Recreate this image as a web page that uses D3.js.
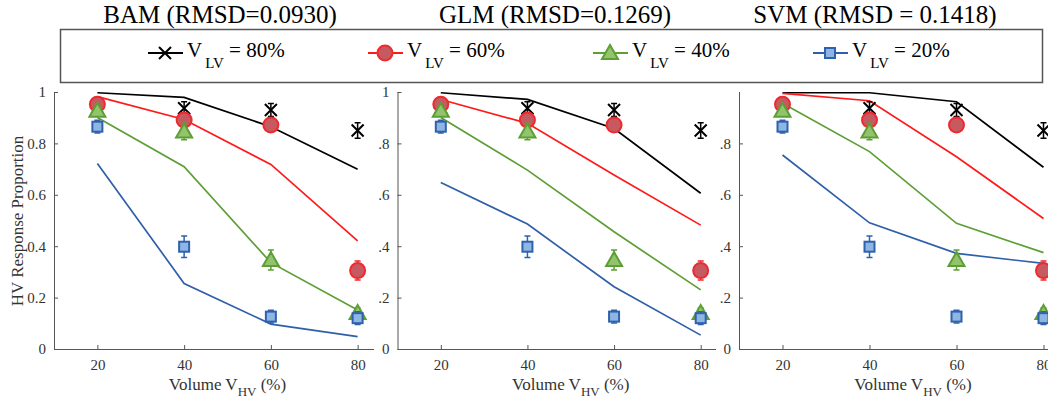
<!DOCTYPE html>
<html>
<head>
<meta charset="utf-8">
<script src="https://cdn.jsdelivr.net/npm/d3@7"></script>
<style>
  body { margin: 0; background: #fff; }
  svg { display: block; }
  svg text { font-family: "Liberation Serif", "Times New Roman", serif; }
</style>
</head>
<body>
<svg id="chart" width="1048" height="400"></svg>
<script>
// Volumes on the x axis
const volumes = [20, 40, 60, 80];
const xTicks = [20, 40, 60, 80];

// Observed responses (same in all three panels)
const obs80 = [0.94, 0.937, 0.93, 0.85];
const err80 = [0.02, 0.025, 0.025, 0.03];
const obs60 = [0.952, 0.891, 0.872, 0.305];
const err60 = [0.02, 0.025, 0.02, 0.037];
const obs40 = [0.927, 0.846, 0.346, 0.14];
const err40 = [0.02, 0.032, 0.039, 0.02];
const obs20 = [0.865, 0.398, 0.126, 0.12];
const err20 = [0.025, 0.042, 0.025, 0.025];

// Model predictions
const bam80 = [0.997, 0.979, 0.865, 0.699];
const bam60 = [0.982, 0.893, 0.718, 0.421];
const bam40 = [0.901, 0.709, 0.336, 0.152];
const bam20 = [0.722, 0.255, 0.097, 0.048];

const glm80 = [0.997, 0.971, 0.858, 0.606];
const glm60 = [0.971, 0.878, 0.677, 0.482];
const glm40 = [0.901, 0.696, 0.456, 0.23];
const glm20 = [0.648, 0.486, 0.242, 0.054];

const svm80 = [0.997, 0.997, 0.962, 0.707];
const svm60 = [0.995, 0.966, 0.748, 0.508];
const svm40 = [0.956, 0.768, 0.489, 0.375];
const svm20 = [0.755, 0.491, 0.372, 0.333];

const titles = ["BAM (RMSD=0.0930)", "GLM (RMSD=0.1269)", "SVM (RMSD = 0.1418)"];
const legendLabels = ["80%", "60%", "40%", "20%"];

const series = [
  { key: "80", line: "#000", stroke: "#000", fill: "none", shape: "x" },
  { key: "60", line: "#ff1a1a", stroke: "#ee2a2e", fill: "#c65a60", shape: "circle" },
  { key: "40", line: "#5d9e35", stroke: "#5d9e35", fill: "#92c46d", shape: "triangle" },
  { key: "20", line: "#2f5fa8", stroke: "#2f62ad", fill: "#8fb6e2", shape: "square" },
];
const observed = [
  { y: obs80, e: err80 }, { y: obs60, e: err60 },
  { y: obs40, e: err40 }, { y: obs20, e: err20 },
];

const panels = [
  { x0: 54, x1: 401, cover: null, title: titles[0], tcx: 220, model: [bam80, bam60, bam40, bam20], yTicks: [0, 0.2, 0.4, 0.6, 0.8, 1], fmt: d => String(d) },
  { x0: 397.5, x1: 744, cover: 374, title: titles[1], tcx: 555, model: [glm80, glm60, glm40, glm20], yTicks: [0, 0.2, 0.4, 0.6, 0.8, 1], fmt: d => String(d).replace("0.", ".") },
  { x0: 739, x1: 1087, cover: 716, title: titles[2], tcx: 875, model: [svm80, svm60, svm40, svm20], yTicks: [0, 0.2, 0.4, 0.6, 0.8], fmt: d => String(d).replace("0.", ".") },
];

const svg = d3.select("#chart");
const serif = "Liberation Serif";
const yScale = d3.scaleLinear().domain([0, 1]).range([349, 92]);
const axisColor = "#555";
const tickColor = "#333";

function drawMarker(g, s, cx, cy) {
  if (s.shape === "x") {
    const r = 6;
    g.append("path")
      .attr("d", `M${cx - r},${cy - r}L${cx + r},${cy + r}M${cx - r},${cy + r}L${cx + r},${cy - r}`)
      .attr("stroke", s.stroke).attr("stroke-width", 2).attr("fill", "none");
  } else if (s.shape === "circle") {
    g.append("circle").attr("cx", cx).attr("cy", cy).attr("r", 7.5)
      .attr("fill", s.fill).attr("stroke", s.stroke).attr("stroke-width", 2);
  } else if (s.shape === "triangle") {
    g.append("path")
      .attr("d", `M${cx},${cy - 8}L${cx + 8},${cy + 6}L${cx - 8},${cy + 6}Z`)
      .attr("fill", s.fill).attr("stroke", s.stroke).attr("stroke-width", 2);
  } else {
    g.append("rect").attr("x", cx - 5).attr("y", cy - 5).attr("width", 10).attr("height", 10)
      .attr("fill", s.fill).attr("stroke", s.stroke).attr("stroke-width", 2);
  }
}

panels.forEach(p => {
  const g = svg.append("g");
  if (p.cover !== null) {
    g.append("rect").attr("x", p.cover).attr("y", 86)
      .attr("width", 1048 - p.cover).attr("height", 314).attr("fill", "#fff");
  }
  const xScale = d3.scaleLinear().domain([10, 90]).range([p.x0, p.x1]);

  // axes (MATLAB style, ticks inward, box off)
  const xAxis = d3.axisBottom(xScale).tickValues(xTicks).tickSize(-4).tickPadding(10);
  const gx = g.append("g").attr("transform", "translate(0,349)").call(xAxis);
  const yAxis = d3.axisLeft(yScale).tickValues(p.yTicks).tickSize(-4).tickPadding(8).tickFormat(p.fmt);
  const gy = g.append("g").attr("transform", `translate(${p.x0},0)`).call(yAxis);
  [gx, gy].forEach(a => {
    a.attr("font-family", serif);
    a.select(".domain").attr("stroke", axisColor);
    a.selectAll(".tick line").attr("stroke", axisColor);
    a.selectAll(".tick text").attr("fill", tickColor)
      .attr("font-family", serif).style("font-size", "15px");
  });
  gx.select(".domain").attr("d", `M${p.x0},0.5H${p.x1}`);
  gy.select(".domain").attr("d", `M0.5,${yScale(0)}V${yScale(1)}`);

  // model lines
  const line = d3.line().x((d, i) => xScale(volumes[i])).y(d => yScale(d));
  p.model.forEach((vals, k) => {
    g.append("path").datum(vals)
      .attr("fill", "none").attr("stroke", series[k].line)
      .attr("stroke-width", 1.7).attr("d", line);
  });

  // observed points with error bars
  observed.forEach((o, k) => {
    const s = series[k];
    o.y.forEach((v, i) => {
      const cx = xScale(volumes[i]);
      const top = yScale(v + o.e[i]);
      const bot = yScale(v - o.e[i]);
      g.append("path")
        .attr("d", `M${cx},${top}V${bot}M${cx - 3},${top}H${cx + 3}M${cx - 3},${bot}H${cx + 3}`)
        .attr("stroke", s.stroke).attr("stroke-width", 1.5).attr("fill", "none");
      drawMarker(g, s, cx, yScale(v));
    });
  });

  // x label
  const xl = g.append("text")
    .attr("x", (p.x0 + p.x1) / 2).attr("y", 390)
    .attr("text-anchor", "middle").attr("fill", tickColor)
    .attr("font-family", serif).style("font-size", "17px");
  xl.append("tspan").text("Volume V");
  xl.append("tspan").attr("dy", 6).style("font-size", "13px").text("HV");
  xl.append("tspan").attr("dy", -6).text(" (%)");

  // title
  svg.append("text").attr("x", p.tcx).attr("y", 23)
    .attr("text-anchor", "middle").attr("fill", "#000")
    .attr("font-family", serif).style("font-size", "25px").text(p.title);
});

// y label on first panel
svg.append("text")
  .attr("transform", "translate(23,221) rotate(-90)")
  .attr("text-anchor", "middle").attr("fill", tickColor)
  .attr("font-family", serif).style("font-size", "17px").text("HV Response Proportion");

// legend
const leg = svg.append("g");
leg.append("rect").attr("x", 60.5).attr("y", 29.5).attr("width", 982).attr("height", 53)
  .attr("fill", "#fff").attr("stroke", "#555").attr("stroke-width", 1.5);
const legendX = [165, 385, 610, 830];
series.forEach((s, k) => {
  const cx = legendX[k];
  leg.append("line").attr("x1", cx - 17).attr("x2", cx + 18).attr("y1", 53).attr("y2", 53)
    .attr("stroke", s.line).attr("stroke-width", 2);
  drawMarker(leg, s, cx, 53);
  const t = leg.append("text").attr("x", cx + 22).attr("y", 57)
    .attr("fill", "#000").attr("font-family", serif).style("font-size", "21px");
  t.append("tspan").text("V");
  t.append("tspan").attr("dx", 3).attr("dy", 11).style("font-size", "15px").text("LV");
  t.append("tspan").attr("dy", -11).text(" = " + legendLabels[k]);
});
</script>
</body>
</html>
